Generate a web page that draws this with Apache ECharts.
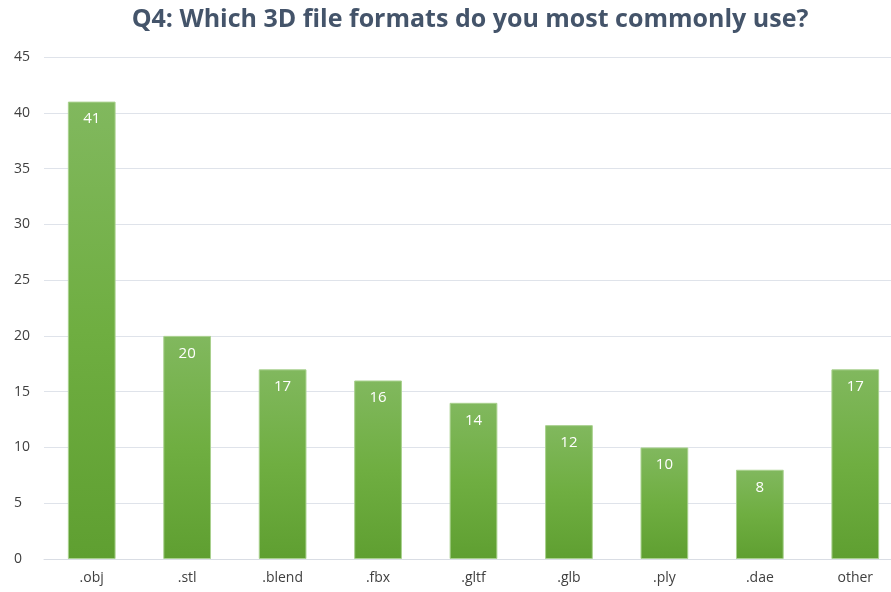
<!DOCTYPE html>
<html>
<head>
<meta charset="utf-8">
<script src="https://cdn.jsdelivr.net/npm/echarts@6/dist/echarts.min.js"></script>
<style>
  html, body { margin: 0; padding: 0; background: #fff; }
  #chart { width: 891px; height: 592px; }
</style>
</head>
<body>
<div id="chart"></div>
<script>
const formats = ['.obj', '.stl', '.blend', '.fbx', '.gltf', '.glb', '.ply', '.dae', 'other'];
const counts = [41, 20, 17, 16, 14, 12, 10, 8, 17];
const yTicks = { min: 0, max: 45, step: 5 };

const chart = echarts.init(document.getElementById('chart'));
chart.setOption({
  animation: false,
  title: {
    text: 'Q4: Which 3D file formats do you most commonly use?',
    left: 465,
    textAlign: 'center',
    top: 2,
    textStyle: {
      fontFamily: 'Open Sans',
      fontWeight: 'bold',
      fontSize: 25,
      color: '#44546a'
    }
  },
  grid: { left: 44, width: 859, top: 57, bottom: 33, outerBoundsMode: 'none', containLabel: false },
  xAxis: {
    type: 'category',
    data: formats,
    axisLine: { show: true, lineStyle: { color: '#d9dde4', width: 1 } },
    axisTick: { show: false },
    axisLabel: { color: '#404040', fontSize: 14, fontFamily: 'Open Sans', margin: 12 }
  },
  yAxis: {
    type: 'value',
    min: yTicks.min,
    max: yTicks.max,
    interval: yTicks.step,
    axisLine: { show: false },
    axisTick: { show: false },
    axisLabel: { color: '#404040', fontSize: 14, fontFamily: 'Open Sans', margin: 30, align: 'left' },
    splitLine: { lineStyle: { color: '#dfe3ea', width: 1 } }
  },
  series: [{
    type: 'bar',
    data: counts,
    barWidth: '50%',
    itemStyle: {
      color: new echarts.graphic.LinearGradient(0, 0, 0, 1, [
        { offset: 0, color: '#81b85e' },
        { offset: 0.5, color: '#6fae41' },
        { offset: 1, color: '#5f9f31' }
      ]),
      borderColor: '#a9d18e',
      borderWidth: 1
    },
    label: {
      show: true,
      position: 'insideTop',
      distance: 10,
      color: '#ffffff',
      fontSize: 15,
      fontFamily: 'Open Sans'
    }
  }]
});
</script>
</body>
</html>
